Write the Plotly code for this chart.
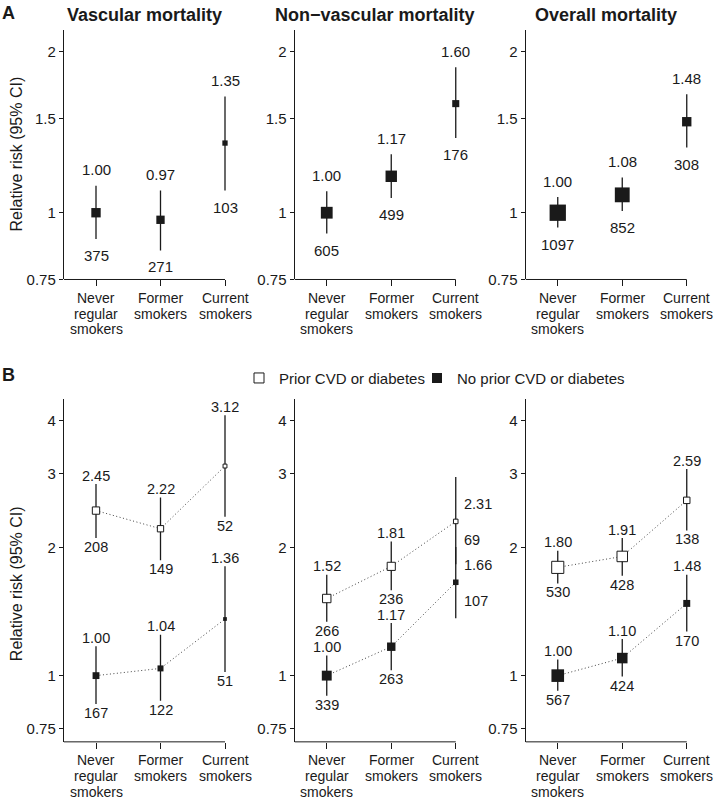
import math
import plotly.graph_objects as go

# ---------------- data ----------------
category_lines = [["Never", "regular", "smokers"], ["Former", "smokers"], ["Current", "smokers"]]
panel_titles = ["Vascular mortality", "Non\u2212vascular mortality", "Overall mortality"]

# Panel A: relative risk, 95% CI, number of deaths
A_rr = [[1.00, 0.97, 1.35], [1.00, 1.17, 1.60], [1.00, 1.08, 1.48]]
A_lo = [[0.893, 0.85, 1.10], [0.914, 1.066, 1.38], [0.938, 1.007, 1.324]]
A_hi = [[1.123, 1.10, 1.65], [1.097, 1.287, 1.872], [1.07, 1.164, 1.666]]
A_n = [[375, 271, 103], [605, 499, 176], [1097, 852, 308]]

# Panel B: prior CVD or diabetes
Bp_rr = [[2.45, 2.22, 3.12], [1.52, 1.81, 2.31], [1.80, 1.91, 2.59]]
Bp_lo = [[2.11, 1.87, 2.37], [1.34, 1.59, 1.83], [1.65, 1.72, 2.20]]
Bp_hi = [[2.83, 2.63, 4.11], [1.73, 2.07, 2.94], [1.97, 2.11, 3.07]]
Bp_n = [[208, 149, 52], [266, 236, 69], [530, 428, 138]]
# Panel B: no prior CVD or diabetes
Bn_rr = [[1.00, 1.04, 1.36], [1.00, 1.17, 1.66], [1.00, 1.10, 1.48]]
Bn_lo = [[0.857, 0.873, 1.02], [0.897, 1.03, 1.366], [0.921, 0.995, 1.27]]
Bn_hi = [[1.173, 1.249, 1.81], [1.115, 1.33, 2.01], [1.092, 1.22, 1.73]]
Bn_n = [[167, 122, 51], [339, 263, 107], [567, 424, 170]]

A_ticks = [0.75, 1, 1.5, 2]
B_ticks = [0.75, 1, 2, 3, 4]

legend_names = ["Prior CVD or diabetes", "No prior CVD or diabetes"]

# ---------------- layout helpers ----------------
W, H = 714, 805
FONT = "Liberation Sans"
INK = "#1a1a1a"
unit = 64.5
lefts = [63.75, 294.5, 525.5]
xr = [-0.5, 2.25]
rowA = (30, 282.3)
rowB = (403, 749.3)
A_range = [math.log10(0.75), math.log10(2.2)]
B_range = [math.log10(0.698), math.log10(4.49)]
SIZE_K = 2.15  # marker side ~ precision (1 / log CI width)

def px(x):
    return x / W

def py(y):
    return 1 - y / H

def msize(lo, hi):
    return [SIZE_K / math.log(h / l) for l, h in zip(lo, hi)]

fig = go.Figure()
annotations = []
shapes = []
layout_axes = {}

def add_axes(k, row, ticks, yrange):
    left = lefts[(k - 1) % 3]
    top, bottom = row
    xa = "xaxis" if k == 1 else f"xaxis{k}"
    ya = "yaxis" if k == 1 else f"yaxis{k}"
    layout_axes[xa] = dict(
        domain=[px(left), px(left + unit * (xr[1] - xr[0]))], range=xr,
        anchor=f"y{k}" if k > 1 else "y",
        tickvals=[0, 1, 2], ticks="outside", ticklen=6, tickwidth=1, tickcolor=INK,
        showticklabels=False, showline=False, showgrid=False, zeroline=False, fixedrange=True,
    )
    layout_axes[ya] = dict(
        domain=[py(bottom), py(top)], type="log", range=yrange,
        anchor=f"x{k}" if k > 1 else "x",
        tickvals=ticks, ticktext=[("%g" % t) for t in ticks],
        ticks="outside", ticklen=4, tickwidth=1, tickcolor=INK,
        showline=True, linecolor=INK, linewidth=1, showgrid=False, zeroline=False,
        tickfont=dict(size=15, color=INK, family=FONT), fixedrange=True,
    )
    xref = "x" if k == 1 else f"x{k}"
    yref = "y" if k == 1 else f"y{k}"
    shapes.append(dict(type="line", xref=xref, yref=f"{yref} domain", x0=-0.5, x1=2, y0=0, y1=0,
                       line=dict(color=INK, width=1)))
    # category labels (tight line spacing)
    for ci, lines in enumerate(category_lines):
        for li, t in enumerate(lines):
            annotations.append(dict(text=t, xref=xref, yref="paper", x=ci, y=py(bottom),
                                    xanchor="center", yanchor="middle", showarrow=False,
                                    yshift=-(18.5 + 15.7 * li), font=dict(size=14, color=INK)))
    return xref, yref

def label(xref, yref, x, y, text, shift, size=15, **kw):
    d = dict(text=text, xref=xref, yref=yref, x=x, y=math.log10(y), showarrow=False,
             xanchor="center", yanchor="middle", yshift=shift, font=dict(size=size, color=INK))
    d.update(kw)
    annotations.append(d)

def err(rr, lo, hi):
    return dict(type="data", symmetric=False,
                array=[h - r for r, h in zip(rr, hi)],
                arrayminus=[r - l for r, l in zip(rr, lo)],
                width=0, thickness=1.3, color=INK)

cats = [0, 1, 2]

# ---------- Row A ----------
for p in range(3):
    k = p + 1
    xref, yref = add_axes(k, rowA, A_ticks, A_range)
    fig.add_trace(go.Scatter(
        x=cats, y=A_rr[p], mode="markers", xaxis=xref, yaxis=yref, showlegend=False,
        cliponaxis=False, error_y=err(A_rr[p], A_lo[p], A_hi[p]),
        marker=dict(symbol="square", size=msize(A_lo[p], A_hi[p]), color=INK, opacity=1,
                    line=dict(width=0)),
    ))
    for c in cats:
        label(xref, yref, c, A_hi[p][c], "%.2f" % A_rr[p][c], 16)
        label(xref, yref, c, A_lo[p][c], str(A_n[p][c]), -16.5)
    left = lefts[p]
    annotations.append(dict(text=f"<b>{panel_titles[p]}</b>", xref="paper", yref="paper",
                            x=px(left + unit * 1.25), y=py(15), xanchor="center", yanchor="middle",
                            showarrow=False, font=dict(size=18, color=INK)))

# ---------- Row B ----------
side_labelled = {(1, 2)}
for p in range(3):
    k = p + 4
    xref, yref = add_axes(k, rowB, B_ticks, B_range)
    for rr, lo, hi, n, filled in [(Bp_rr, Bp_lo, Bp_hi, Bp_n, False),
                                  (Bn_rr, Bn_lo, Bn_hi, Bn_n, True)]:
        fig.add_trace(go.Scatter(
            x=cats, y=rr[p], mode="lines+markers", xaxis=xref, yaxis=yref, showlegend=False,
            cliponaxis=False, error_y=err(rr[p], lo[p], hi[p]),
            line=dict(color="#444444", width=1, dash="1px,2.5px"),
            marker=dict(symbol="square", size=msize(lo[p], hi[p]), opacity=1,
                        color=INK if filled else "white",
                        line=dict(width=0 if filled else 1, color=INK)),
        ))
        for c in cats:
            if (p, c) in side_labelled:
                label(xref, yref, c, rr[p][c], "%.2f" % rr[p][c], 17, size=14.5,
                      xanchor="left", xshift=6)
                label(xref, yref, c, rr[p][c], str(n[p][c]), -18.5, size=14.5,
                      xanchor="left", xshift=6)
            else:
                label(xref, yref, c, hi[p][c], "%.2f" % rr[p][c], 8.5, size=14.5)
                label(xref, yref, c, lo[p][c], str(n[p][c]), -9, size=14.5)

# legend entries
fig.add_trace(go.Scatter(x=[None], y=[None], mode="markers", name=legend_names[0], legend="legend",
                         marker=dict(symbol="square", size=10, color="white", line=dict(width=1, color=INK))))
fig.add_trace(go.Scatter(x=[None], y=[None], mode="markers", name=legend_names[1], legend="legend2",
                         marker=dict(symbol="square", size=10, color=INK, line=dict(width=0))))

# panel letters and y titles
annotations.append(dict(text="<b>A</b>", xref="paper", yref="paper", x=px(0), y=py(13), xanchor="left",
                        yanchor="middle", showarrow=False, font=dict(size=18, color=INK)))
annotations.append(dict(text="<b>B</b>", xref="paper", yref="paper", x=px(0), y=py(379), xanchor="left",
                        yanchor="middle", showarrow=False, font=dict(size=18, color=INK)))
for yc in (156, 590):
    annotations.append(dict(text="Relative risk (95% CI)", xref="paper", yref="paper", x=px(16), y=py(yc),
                            xanchor="center", yanchor="middle", textangle=-90, showarrow=False,
                            font=dict(size=16, color=INK)))

fig.update_layout(
    width=W, height=H, margin=dict(l=0, r=0, t=0, b=0),
    paper_bgcolor="white", plot_bgcolor="white",
    font=dict(family=FONT, color=INK, size=15),
    annotations=annotations, shapes=shapes,
    legend=dict(x=px(239), y=py(382), xanchor="left", yanchor="middle", bgcolor="rgba(0,0,0,0)",
                orientation="h", font=dict(size=15, color=INK)),
    legend2=dict(x=px(417), y=py(382), xanchor="left", yanchor="middle", bgcolor="rgba(0,0,0,0)",
                 orientation="h", font=dict(size=15, color=INK)),
    **layout_axes,
)

fig.write_html("out.html", config={"displayModeBar": False},
               post_script="document.body.style.margin='0';")
